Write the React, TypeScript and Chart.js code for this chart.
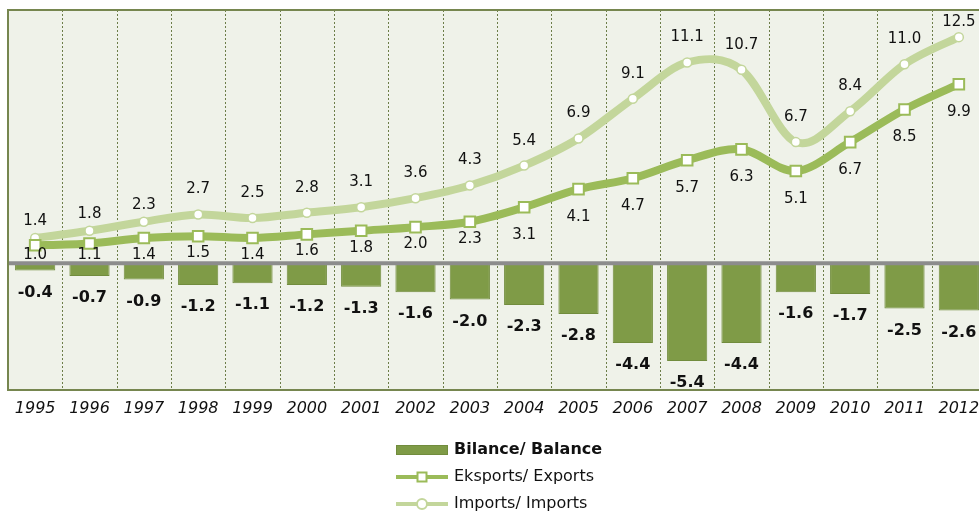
import { useEffect, useRef } from 'react';
import { Chart, registerables } from 'chart.js';

Chart.register(...registerables);

const years = ['1995', '1996', '1997', '1998', '1999', '2000', '2001', '2002', '2003', '2004', '2005', '2006', '2007', '2008', '2009', '2010', '2011', '2012'];
const balance = [-0.4, -0.7, -0.9, -1.2, -1.1, -1.2, -1.3, -1.6, -2.0, -2.3, -2.8, -4.4, -5.4, -4.4, -1.6, -1.7, -2.5, -2.6];
const exportsData = [1.0, 1.1, 1.4, 1.5, 1.4, 1.6, 1.8, 2.0, 2.3, 3.1, 4.1, 4.7, 5.7, 6.3, 5.1, 6.7, 8.5, 9.9];
const importsData = [1.4, 1.8, 2.3, 2.7, 2.5, 2.8, 3.1, 3.6, 4.3, 5.4, 6.9, 9.1, 11.1, 10.7, 6.7, 8.4, 11.0, 12.5];
const legendLabels = ['Bilance/ Balance', 'Eksports/ Exports', 'Imports/ Imports'];

const FONT = '"DejaVu Sans", Verdana, sans-serif';
const BG = '#eff2e9';
const GRID = '#6c7d48';
const FRAME = '#76864f';
const BAR = '#7f9b47';
const BAR_BORDER = '#718c3d';
const EXP = '#9bbb59';
const IMP = '#c3d69b';
const ZERO = '#8c8c8c';
const TEXT = '#111111';

// Uniform Catmull-Rom style smoothing (like the spreadsheet's smoothed lines)
const smoothing = {
  id: 'smoothing',
  beforeDatasetsDraw(chart: any) {
    chart.data.datasets.forEach((ds: any, di: number) => {
      if (ds.type !== 'line') return;
      const meta = chart.getDatasetMeta(di);
      const line = meta.dataset;
      if (!line) return;
      line.updateControlPoints(chart.chartArea, 'x');
      const pts = meta.data;
      const n = pts.length;
      for (let i = 0; i < n; i++) {
        const p = pts[i];
        const prev = pts[Math.max(0, i - 1)];
        const next = pts[Math.min(n - 1, i + 1)];
        const tx = (next.x - prev.x) / 6;
        const ty = (next.y - prev.y) / 6;
        p.cp1x = p.x - tx;
        p.cp1y = p.y - ty;
        p.cp2x = p.x + tx;
        p.cp2y = p.y + ty;
      }
      line._pointsUpdated = true;
      delete line._path;
    });
  },
};

const decor = {
  id: 'decor',
  beforeDraw(chart: any) {
    const { ctx, chartArea: a, scales } = chart;
    const x = scales.x;
    ctx.save();
    ctx.fillStyle = BG;
    ctx.fillRect(a.left, a.top, a.right - a.left, a.bottom - a.top);
    ctx.strokeStyle = GRID;
    ctx.lineWidth = 1;
    ctx.setLineDash([2, 2]);
    for (let i = 0; i < years.length - 1; i++) {
      const px = Math.round((x.getPixelForValue(i) + x.getPixelForValue(i + 1)) / 2) + 0.5;
      ctx.beginPath();
      ctx.moveTo(px, a.top);
      ctx.lineTo(px, a.bottom);
      ctx.stroke();
    }
    ctx.restore();
  },
  afterDatasetDraw(chart: any, args: any) {
    if (args.index !== 0) return;
    const { ctx, chartArea: a, scales } = chart;
    const zy = scales.y.getPixelForValue(0);
    ctx.save();
    ctx.strokeStyle = ZERO;
    ctx.lineWidth = 4;
    ctx.beginPath();
    ctx.moveTo(a.left, zy);
    ctx.lineTo(a.right, zy);
    ctx.stroke();
    ctx.restore();
  },
  afterDraw(chart: any) {
    const { ctx, chartArea: a, scales } = chart;
    const x = scales.x;
    const y = scales.y;
    const zy = y.getPixelForValue(0);
    ctx.save();
    // frame
    ctx.strokeStyle = FRAME;
    ctx.lineWidth = 2;
    ctx.strokeRect(a.left, a.top, a.right - a.left, a.bottom - a.top);

    ctx.textAlign = 'center';
    ctx.textBaseline = 'middle';
    ctx.fillStyle = TEXT;

    // year labels
    ctx.font = `italic 16px ${FONT}`;
    years.forEach((yr, i) => {
      ctx.fillText(yr, x.getPixelForValue(i), a.bottom + 19);
    });

    // imports labels (above)
    ctx.font = `15px ${FONT}`;
    importsData.forEach((v, i) => {
      const py = y.getPixelForValue(v);
      const off = v < 2.4 ? 17 : 25;
      const ty = Math.max(py - off, a.top + 12);
      ctx.fillText(v.toFixed(1), x.getPixelForValue(i), ty);
    });
    // exports labels (below)
    exportsData.forEach((v, i) => {
      const py = y.getPixelForValue(v);
      const off = v < 2.5 ? 17 : 28;
      const ty = Math.min(py + off, zy - 8);
      ctx.fillText(v.toFixed(1), x.getPixelForValue(i), ty);
    });
    // balance labels (below bars)
    ctx.font = `bold 16px ${FONT}`;
    balance.forEach((v, i) => {
      const py = y.getPixelForValue(v);
      ctx.fillText(v.toFixed(1), x.getPixelForValue(i), py + 22);
    });

    // legend
    const lx = 396;
    const lw = 52;
    const tx = lx + lw + 6;
    const rows = [a.bottom + 60, a.bottom + 87, a.bottom + 114];
    ctx.textAlign = 'left';
    ctx.fillStyle = BAR;
    ctx.fillRect(lx, rows[0] - 5, lw, 10);
    ctx.strokeStyle = BAR_BORDER;
    ctx.lineWidth = 1;
    ctx.strokeRect(lx + 0.5, rows[0] - 4.5, lw - 1, 9);
    ctx.fillStyle = TEXT;
    ctx.font = `bold 16px ${FONT}`;
    ctx.fillText(legendLabels[0], tx, rows[0]);
    // exports swatch
    ctx.strokeStyle = EXP;
    ctx.lineWidth = 4;
    ctx.beginPath();
    ctx.moveTo(lx, rows[1]);
    ctx.lineTo(lx + lw, rows[1]);
    ctx.stroke();
    ctx.fillStyle = '#ffffff';
    ctx.lineWidth = 2;
    ctx.fillRect(lx + lw / 2 - 4.5, rows[1] - 4.5, 9, 9);
    ctx.strokeRect(lx + lw / 2 - 4.5, rows[1] - 4.5, 9, 9);
    ctx.fillStyle = TEXT;
    ctx.font = `16px ${FONT}`;
    ctx.fillText(legendLabels[1], tx, rows[1]);
    // imports swatch
    ctx.strokeStyle = IMP;
    ctx.lineWidth = 4;
    ctx.beginPath();
    ctx.moveTo(lx, rows[2]);
    ctx.lineTo(lx + lw, rows[2]);
    ctx.stroke();
    ctx.fillStyle = '#ffffff';
    ctx.lineWidth = 2;
    ctx.beginPath();
    ctx.arc(lx + lw / 2, rows[2], 5, 0, Math.PI * 2);
    ctx.fill();
    ctx.stroke();
    ctx.fillStyle = TEXT;
    ctx.fillText(legendLabels[2], tx, rows[2]);
    ctx.restore();
  },
};

export default function App() {
  const ref = useRef<HTMLCanvasElement>(null);
  useEffect(() => {
    if (!ref.current) return;
    const chart = new Chart(ref.current, {
      type: 'bar',
      data: {
        labels: years,
        datasets: [
          {
            type: 'bar',
            label: legendLabels[0],
            data: balance,
            backgroundColor: BAR,
            borderColor: BAR_BORDER,
            borderWidth: 1,
            barPercentage: 0.74,
            categoryPercentage: 1,
            order: 2,
          },
          {
            type: 'line',
            label: legendLabels[1],
            data: exportsData,
            borderColor: EXP,
            borderWidth: 8,
            tension: 0.4,
            pointStyle: 'rect',
            pointRadius: 7.5,
            pointBorderWidth: 2,
            pointBackgroundColor: '#ffffff',
            pointBorderColor: EXP,
            order: 0,
          },
          {
            type: 'line',
            label: legendLabels[2],
            data: importsData,
            borderColor: IMP,
            borderWidth: 8,
            tension: 0.4,
            pointStyle: 'circle',
            pointRadius: 4.5,
            pointBorderWidth: 1.5,
            pointBackgroundColor: '#ffffff',
            pointBorderColor: IMP,
            order: 1,
          },
        ],
      },
      options: {
        animation: false,
        responsive: false,
        maintainAspectRatio: false,
        layout: { autoPadding: false, padding: { left: 8, top: 10, right: 4, bottom: 122 } },
        scales: {
          x: { display: false, offset: true },
          y: { display: false, min: -7, max: 14 },
        },
        plugins: {
          legend: { display: false },
          tooltip: { enabled: false },
        },
      },
      plugins: [smoothing, decor],
    });
    return () => chart.destroy();
  }, []);
  return (
    <div style={{ position: 'absolute', left: 0, top: 0, width: 979, height: 512, overflow: 'hidden' }}>
      <canvas ref={ref} width={990} height={512} style={{ display: 'block', width: 990, height: 512 }} />
    </div>
  );
}
